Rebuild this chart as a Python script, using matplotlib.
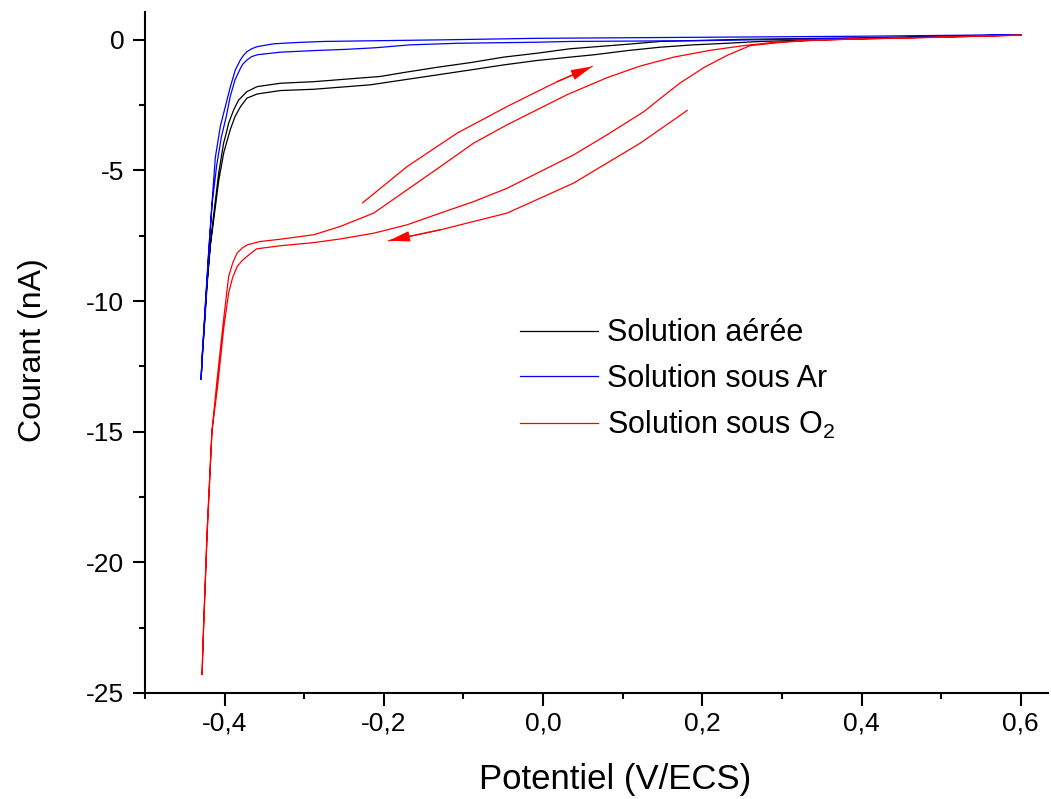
import matplotlib
matplotlib.use("Agg")
from matplotlib import pyplot as plt

# Solution aeree (black) : aller puis retour
air_x = [0.60, 0.50, 0.40, 0.273, 0.231, 0.189, 0.147, 0.106, 0.064, 0.034, -0.008, -0.050, -0.091,
         -0.133, -0.175, -0.217, -0.246, -0.288, -0.330, -0.359, -0.372, -0.380, -0.387, -0.393,
         -0.401, -0.4075, -0.4138, -0.418, -0.4221, -0.4255, -0.4284, -0.4296,
         -0.4284, -0.4255, -0.4221, -0.418, -0.4138, -0.4075, -0.4013, -0.3991, -0.395, -0.3887,
         -0.3824, -0.3719, -0.3593, -0.330, -0.2882, -0.2462, -0.2044, -0.1751, -0.1332, -0.0913,
         -0.0495, -0.0075, 0.034, 0.105, 0.147, 0.25, 0.40, 0.60]
air_y = [0.20, 0.12, 0.05, -0.06, -0.13, -0.19, -0.28, -0.41, -0.57, -0.66, -0.79, -0.96, -1.15,
         -1.34, -1.53, -1.72, -1.79, -1.89, -1.94, -2.07, -2.23, -2.55, -2.94, -3.44,
         -4.3, -5.4, -6.9, -7.9, -9.4, -11.0, -12.3, -13.0,
         -12.2, -10.9, -9.3, -7.8, -6.7, -5.1, -3.95, -3.70, -3.19, -2.68,
         -2.30, -1.98, -1.79, -1.66, -1.60, -1.50, -1.40, -1.25, -1.05, -0.87,
         -0.66, -0.51, -0.34, -0.17, -0.06, 0.02, 0.08, 0.20]

# Solution sous Ar (blue)
ar_x = [0.60, 0.45, 0.30, 0.20, 0.034, -0.008, -0.108, -0.167, -0.210, -0.246, -0.288, -0.330,
        -0.359, -0.366, -0.372, -0.377, -0.380, -0.387, -0.393, -0.398, -0.404, -0.410, -0.4158,
        -0.4201, -0.4242, -0.4284, -0.4296,
        -0.4284, -0.4242, -0.4201, -0.4158, -0.4117, -0.4054, -0.3991, -0.3928, -0.3866, -0.3803,
        -0.376, -0.3719, -0.366, -0.3593, -0.3384, -0.309, -0.2756, -0.2044, -0.129, -0.008, 0.2,
        0.4, 0.6]
ar_y = [0.20, 0.08, 0.02, -0.03, -0.06, -0.09, -0.13, -0.19, -0.30, -0.36, -0.41, -0.47,
        -0.57, -0.64, -0.77, -0.92, -1.08, -1.53, -2.17, -2.94, -3.7, -4.8, -6.3,
        -8.2, -10.2, -12.3, -13.0,
        -12.2, -10.1, -8.1, -6.2, -4.5, -3.3, -2.55, -1.79, -1.15, -0.77,
        -0.58, -0.45, -0.34, -0.26, -0.15, -0.10, -0.06, -0.03, 0.0, 0.06, 0.10,
        0.14, 0.20]

# Solution sous O2 (red)
o2_x = [0.60, 0.50, 0.40, 0.33, 0.298, 0.26, 0.232, 0.2025, 0.172, 0.147, 0.1264, 0.08, 0.0384,
        -0.0034, -0.0452, -0.0872, -0.129, -0.1709, -0.2128, -0.2546, -0.2882, -0.33, -0.36,
        -0.372, -0.378, -0.3844, -0.390, -0.395, -0.401, -0.409, -0.416, -0.422, -0.4264, -0.4284,
        -0.4264, -0.422, -0.416, -0.4095, -0.4013, -0.395, -0.390, -0.3844, -0.378, -0.3719,
        -0.356, -0.33, -0.2882, -0.2546, -0.2128, -0.1709, -0.129, -0.0872, -0.0452, -0.0034,
        0.03, 0.08, 0.1222, 0.164, 0.21, 0.252, 0.294, 0.35, 0.45, 0.60]
o2_y = [0.18, 0.10, 0.04, -0.03, -0.10, -0.22, -0.58, -1.05, -1.65, -2.25, -2.75, -3.64, -4.40,
        -5.04, -5.68, -6.19, -6.63, -7.08, -7.40, -7.62, -7.76, -7.88, -8.0,
        -8.29, -8.45, -8.68, -9.1, -9.69, -11.0, -13.3, -15.0, -18.9, -22.45, -24.3,
        -22.4, -18.8, -15.0, -13.0, -10.7, -9.06, -8.55, -8.16, -7.97, -7.85,
        -7.72, -7.63, -7.46, -7.14, -6.63, -5.74, -4.85, -3.95, -3.25, -2.61,
        -2.1, -1.45, -1.0, -0.66, -0.40, -0.22, -0.08, 0.0, 0.07, 0.18]

# sens de balayage
arrow_up_x = [-0.2268, -0.1709, -0.108, -0.0452, 0.0176, 0.0615]
arrow_up_y = [-6.24, -4.85, -3.57, -2.55, -1.60, -1.02]
arrow_down_x = [0.181, 0.1222, 0.0384, -0.0452, -0.129, -0.194]
arrow_down_y = [-2.70, -3.95, -5.48, -6.63, -7.27, -7.69]

xticks = [-0.4, -0.2, 0.0, 0.2, 0.4, 0.6]
xticklabels = ["-0,4", "-0,2", "0,0", "0,2", "0,4", "0,6"]
xminor = [-0.5, -0.3, -0.1, 0.1, 0.3, 0.5]
yticks = [0, -5, -10, -15, -20, -25]
yticklabels = ["0", "-5", "-10", "-15", "-20", "-25"]
yminor = [-2.5, -7.5, -12.5, -17.5, -22.5]

plt.rcParams["font.family"] = ["Liberation Sans", "DejaVu Sans"]
plt.rcParams["mathtext.default"] = "regular"

fig = plt.figure(figsize=(10.51, 7.99), dpi=100)
ax = fig.add_axes([0.138, 0.1327, 0.859, 0.8527])

ax.plot(air_x, air_y, color="black", lw=0.9, label="Solution aérée")
ax.plot(ar_x, ar_y, color="#0000ff", lw=0.9, label="Solution sous Ar")
ax.plot(o2_x, o2_y, color="#ff0000", lw=0.9, label="Solution sous O$_2$")

for xs, ys in [(arrow_up_x, arrow_up_y), (arrow_down_x, arrow_down_y)]:
    ax.plot(xs, ys, color="#ff0000", lw=0.9)
    ax.annotate("", xy=(xs[-1], ys[-1]), xytext=(xs[-2], ys[-2]),
                arrowprops=dict(arrowstyle="-|>,head_length=0.65,head_width=0.16",
                                color="#ff0000", lw=0.9, mutation_scale=20,
                                shrinkA=0, shrinkB=0))

ax.set_xlim(-0.5, 0.634)
ax.set_ylim(-25, 1.08)
ax.spines["top"].set_visible(False)
ax.spines["right"].set_visible(False)
ax.spines["left"].set_linewidth(1.5)
ax.spines["bottom"].set_linewidth(1.5)

ax.set_xticks(xticks)
ax.set_xticklabels(xticklabels)
ax.set_xticks(xminor, minor=True)
ax.set_yticks(yticks)
ax.set_yticklabels(yticklabels)
ax.set_yticks(yminor, minor=True)
ax.tick_params(which="major", direction="out", length=9, width=1.5, labelsize=19)
ax.tick_params(axis="y", which="major", pad=6)
ax.tick_params(axis="x", which="major", pad=4)
ax.tick_params(which="minor", direction="out", length=4.5, width=1.5)

ax.set_xlabel("Potentiel (V/ECS)", fontsize=25)
ax.set_ylabel("Courant (nA)", fontsize=23)
ax.xaxis.set_label_coords(0.5205, -0.103)
ax.yaxis.set_label_coords(-0.108, 0.503)

ax.legend(loc="upper left", bbox_to_anchor=(0.415, 0.55), frameon=False, fontsize=22,
          handlelength=2.55, handletextpad=0.3, labelspacing=0.5, borderpad=0, borderaxespad=0)

plt.savefig("out.png", dpi=100)
